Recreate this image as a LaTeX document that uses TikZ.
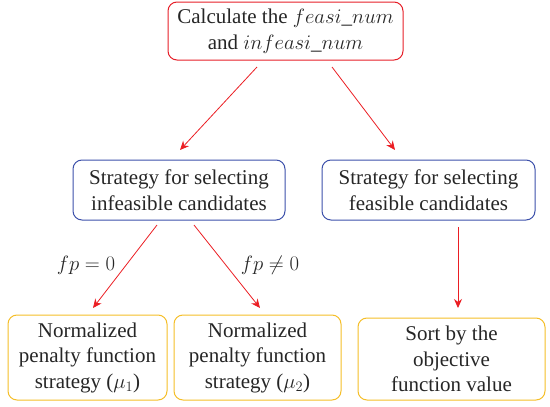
\documentclass[tikz,border=0pt]{standalone}
\usepackage{fontspec}
\setmainfont{Liberation Serif}
\usetikzlibrary{arrows.meta}
\definecolor{bred}{RGB}{230,30,40}
\definecolor{bblue}{RGB}{60,80,170}
\definecolor{byel}{RGB}{245,190,40}
\definecolor{arr}{RGB}{235,30,35}
\tikzset{
  box/.style={draw, rounded corners=9pt, line width=1pt, align=center, inner sep=0pt, font=\fontsize{21}{25.5}\selectfont, text=black!85},
  redbox/.style={box, draw=bred},
  bluebox/.style={box, draw=bblue},
  yelbox/.style={box, draw=byel},
  conn/.style={draw=arr, line width=0.8pt, -{Stealth[length=9pt,width=8pt]}},
  lab/.style={font=\fontsize{21}{25}\selectfont, text=black!85}
}
\begin{document}
\begin{tikzpicture}[x=1pt,y=-1pt]
\useasboundingbox (0,0) rectangle (550,407);
\node[redbox, minimum width=235pt, minimum height=58pt] (top) at (285.5,31) {Calculate the $feasi\_num$\\and $infeasi\_num$};
\node[bluebox, minimum width=212pt, minimum height=60pt] (ml) at (179,190) {Strategy for selecting\\infeasible candidates};
\node[bluebox, minimum width=213pt, minimum height=60pt] (mr) at (428.5,190) {Strategy for selecting\\feasible candidates};
\node[yelbox, minimum width=159pt, minimum height=85pt] (b1) at (87.5,357.5) {Normalized\\penalty function\\strategy ($\mu_1$)};
\node[yelbox, minimum width=167pt, minimum height=85pt] (b2) at (257.5,357.5) {Normalized\\penalty function\\strategy ($\mu_2$)};
\node[yelbox, minimum width=187pt, minimum height=82pt] (b3) at (451.5,359) {Sort by the\\objective\\function value};
\coordinate (t1) at (257,67);
\coordinate (t2) at (332,67);
\coordinate (e1) at (180,150);
\coordinate (e2) at (395,150);
\coordinate (m1) at (157,225);
\coordinate (m2) at (194,225);
\coordinate (f1) at (93,308);
\coordinate (f2) at (260,308);
\coordinate (r1) at (458,227);
\coordinate (g1) at (458,308);
\draw[conn] (t1) -- (e1);
\draw[conn] (t2) -- (e2);
\draw[conn] (m1) -- (f1);
\draw[conn] (m2) -- (f2);
\draw[conn] (r1) -- (g1);
\node[lab] (l1) at (86,265) {$fp = 0$};
\node[lab] (l2) at (270,265) {$fp \neq 0$};
\end{tikzpicture}
\end{document}
